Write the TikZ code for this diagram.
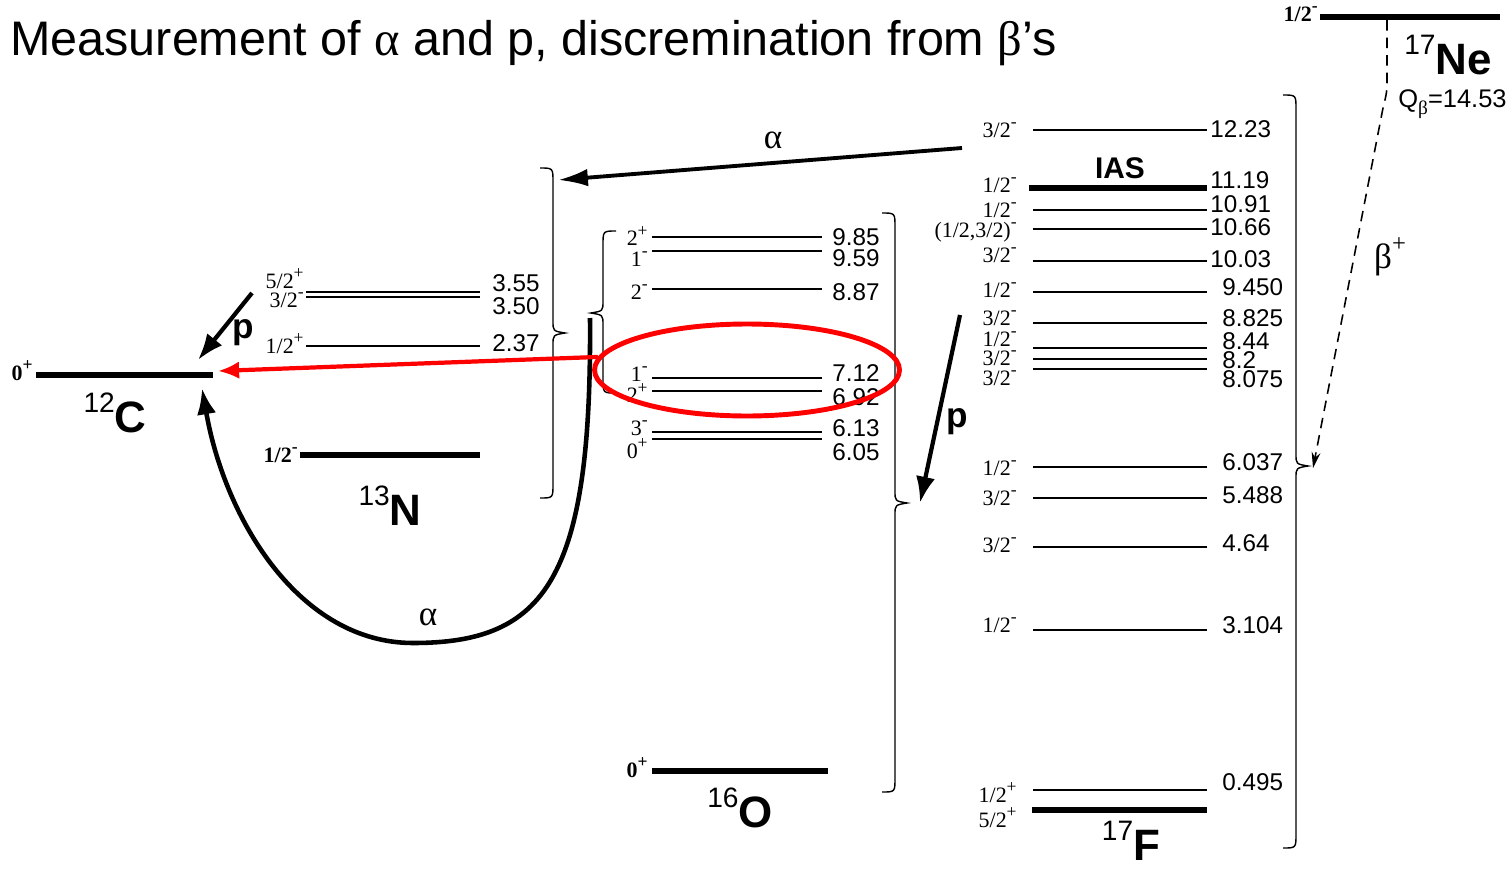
\documentclass[tikz,border=0pt]{standalone}
\usepackage{fontspec}
\setmainfont{Liberation Sans}
\newfontfamily\tms{Liberation Serif}
\usetikzlibrary{arrows.meta,shapes.geometric}

\newcommand{\sps}[1]{\raisebox{0.45em}{\fontsize{10}{10}\selectfont #1}}
\newcommand{\iso}[2]{\raisebox{0.45em}{\fontsize{16}{16}\selectfont\mdseries #1}#2}
% right and left curly braces: stem x, top y, tip y, bottom y
\newcommand{\rbrc}[4]{\draw[brc] (#1-13,#2) .. controls (#1,#2) .. (#1,#2+14) -- (#1,#3-12) .. controls (#1,#3-2) .. (#1+12,#3) .. controls (#1,#3+2) .. (#1,#3+12) -- (#1,#4-14) .. controls (#1,#4) .. (#1-13,#4);}
\newcommand{\lbrc}[4]{\draw[brc] (#1+13,#2) .. controls (#1,#2) .. (#1,#2+14) -- (#1,#3-12) .. controls (#1,#3-2) .. (#1-12,#3) .. controls (#1,#3+2) .. (#1,#3+12) -- (#1,#4-14) .. controls (#1,#4) .. (#1+13,#4);}

\tikzset{
  lvl/.style={line width=0.9pt},
  gnd/.style={line width=3.2pt},
  spin/.style={font=\tms\fontsize{12.5}{12.5}\selectfont, inner sep=0pt, anchor=east},
  spinb/.style={spin, font=\tms\bfseries\fontsize{12.5}{12.5}\selectfont},
  en/.style={font=\fontsize{13.8}{13.8}\selectfont, inner sep=0pt, anchor=west},
  nuc/.style={font=\bfseries\fontsize{25}{25}\selectfont, inner sep=0pt},
  brc/.style={line width=0.8pt},
  part/.style={line width=2.4pt, -{Latex[length=15pt,width=11pt]}},
  hilite/.style={draw=red, line width=2.8pt},
  greek/.style={font=\tms\fontsize{20}{20}\selectfont, inner sep=0pt},
}

\begin{document}
\begin{tikzpicture}[x=0.02cm,y=-0.02cm]
  \useasboundingbox (0,0) rectangle (1512,869);

  \node[anchor=base west, inner sep=0pt, font=\fontsize{27.6}{27.6}\selectfont] (title) at (10,55)
    {Measurement of {\tms α} and p, discremination from {\tms β}’s};

  % 12C
  \draw[gnd] (36,375) -- (213,375);
  \node[spinb] (c12s) at (33,371) {0\sps{+}};
  \node[nuc] (c12) at (115,413) {\iso{12}{C}};

  % 13N
  \draw[lvl] (306,292) -- (480,292);
  \draw[lvl] (306,297) -- (480,297);
  \draw[lvl] (306,346) -- (480,346);
  \draw[gnd] (300,455) -- (480,455);
  \node[spin] (n13s1) at (304,279) {5/2\sps{+}};
  \node[spin] (n13s2) at (304,300) {3/2\sps{-}};
  \node[spin] (n13s3) at (304,344) {1/2\sps{+}};
  \node[spinb] (n13s0) at (298,455) {1/2\sps{-}};
  \node[en] (n13e1) at (492,283) {3.55};
  \node[en] (n13e2) at (492,306) {3.50};
  \node[en] (n13e3) at (492,343) {2.37};
  \node[nuc] (n13) at (390,506) {\iso{13}{N}};
  \rbrc{553}{168}{333}{498}

  % 16O
  \foreach \ly/\sy/\ey/\s/\e [count=\i] in {237/236/237/{2\sps{+}}/9.85, 251/259/258/{1\sps{-}}/9.59,
      289/292/292/{2\sps{-}}/8.87, 378/374/373/{1\sps{-}}/7.12, 391/393/397/{2\sps{+}}/6.92,
      432/428/428/{3\sps{-}}/6.13, 439/449/452/{0\sps{+}}/6.05} {
    \draw[lvl] (652,\ly) -- (822,\ly);
    \node[spin] (o16s\i) at (648,\sy) {\s};
    \node[en] (o16e\i) at (832,\ey) {\e};
  }
  \draw[gnd] (652,771) -- (828,771);
  \node[spinb] (o16s0) at (648,768) {0\sps{+}};
  \node[nuc] (o16) at (740,808) {\iso{16}{O}};
  \lbrc{603}{231}{313}{393}
  \rbrc{895}{213}{503}{792}

  % 17F
  \foreach \ly/\sy/\ey/\ex/\s/\e [count=\i] in {130/130/129/1210/{3/2\sps{-}}/12.23,
      210/210/204/1210/{1/2\sps{-}}/10.91, 229/232/227/1210/{(1/2,3/2)\sps{-}}/10.66,
      261/255/259/1210/{3/2\sps{-}}/10.03, 292/290/287/1222/{1/2\sps{-}}/9.450,
      323/318/318/1222/{3/2\sps{-}}/8.825, 348/339/341/1222/{1/2\sps{-}}/8.44,
      359/358/360/1222/{3/2\sps{-}}/8.2, 369/378/379/1222/{3/2\sps{-}}/8.075,
      467/468/462/1222/{1/2\sps{-}}/6.037, 498/498/495/1222/{3/2\sps{-}}/5.488,
      547/545/543/1222/{3/2\sps{-}}/4.64, 630/625/625/1222/{1/2\sps{-}}/3.104,
      790/793/782/1222/{1/2\sps{+}}/0.495} {
    \draw[lvl] (1033,\ly) -- (1207,\ly);
    \node[spin] (f17s\i) at (1017,\sy) {\s};
    \node[en] (f17e\i) at (\ex,\ey) {\e};
  }
  \draw[gnd] (1029,188) -- (1207,188);
  \node[spin] (f17ias) at (1017,185) {1/2\sps{-}};
  \node[en] (f17eias) at (1210,180) {11.19};
  \node[font=\bfseries\fontsize{17}{17}\selectfont, inner sep=0pt] (ias) at (1120,168) {IAS};
  \draw[line width=3.8pt] (1032,810) -- (1207,810);
  \node[spin] (f17s0) at (1017,818) {5/2\sps{+}};
  \node[nuc] (f17) at (1131,841) {\iso{17}{F}};
  \rbrc{1296}{95}{466}{848}

  % 17Ne
  \draw[gnd] (1320,17) -- (1500,17);
  \node[spinb] (ne17s) at (1318,14) {1/2\sps{-}};
  \node[nuc] (ne17) at (1448,55) {\iso{17}{Ne}};
  \node[font=\fontsize{14.5}{14.5}\selectfont, inner sep=0pt, anchor=west] (qb) at (1398,104)
    {Q\raisebox{-0.3em}{\tms\fontsize{11}{11}\selectfont β}=14.53};

  % decays
  \coordinate (bt) at (1387,20);
  \coordinate (bF) at (1313,468);
  \draw[line width=0.9pt, dash pattern=on 6pt off 4pt, -{Stealth[length=9pt,width=5pt]}]
    (bt) -- (1387,75) .. controls (1387,92) .. (1383,108) -- (bF);
  \node[greek] (blab) at (1390,257) {β\raisebox{0.5em}{\fontsize{14}{14}\selectfont +}};

  \coordinate (aF) at (962,148);
  \coordinate (aN) at (558,180);
  \draw[line width=2.2pt, -{Latex[length=17pt,width=10pt]}] (aF) -- (aN);
  \node[greek] (alab1) at (773,140) {α};

  \coordinate (pF) at (960,315);
  \coordinate (pO) at (920,503);
  \draw[part] (pF) -- (pO);
  \node[font=\bfseries\fontsize{20}{20}\selectfont, inner sep=0pt] (plab1) at (957,422) {p};

  \coordinate (pN) at (252,293);
  \coordinate (pC) at (198,360);
  \draw[part] (pN) -- (pC);
  \node[font=\bfseries\fontsize{20}{20}\selectfont, inner sep=0pt] (plab2) at (243,333) {p};

  \coordinate (aS) at (590,318);
  \coordinate (aC) at (202,388);
  \draw[line width=2.6pt, -{Latex[length=15pt,width=11pt]}]
    (aS) .. controls (592,580) and (545,643) .. (413,643) .. controls (300,643) and (225,520) .. (aC);
  \node[greek] (alab2) at (428,617) {α};

  % selected 16O states
  \node[hilite, ellipse, minimum width=6.1cm, minimum height=1.84cm] (sel) at (747,370) {};
  \coordinate (cR) at (218,371);
  \draw[red, line width=2.4pt, -{Latex[length=12pt,width=10pt]}] (sel.175) -- (cR);
\end{tikzpicture}
\end{document}
